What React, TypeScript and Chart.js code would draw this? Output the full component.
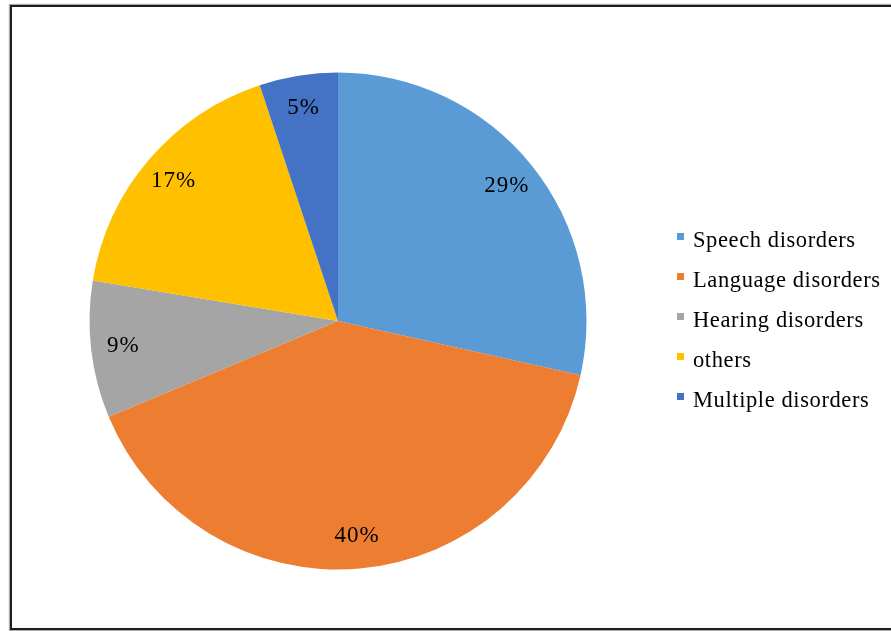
import React, { useEffect, useRef } from "react";
import { Chart, registerables } from "chart.js";

Chart.register(...registerables);

const categories = [
  "Speech disorders",
  "Language disorders",
  "Hearing disorders",
  "others",
  "Multiple disorders",
];
const shares = [28.5, 40.2, 8.9, 17.3, 5.1];
const shareLabels = ["29%", "40%", "9%", "17%", "5%"];
const colors = ["#5B9BD5", "#ED7D31", "#A5A5A5", "#FFC000", "#4472C4"];

const FONT = "'Liberation Serif', 'Times New Roman', serif";

const sliceLabels = {
  id: "sliceLabels",
  afterDatasetsDraw(chart: any) {
    const ctx = chart.ctx;
    const meta = chart.getDatasetMeta(0);
    ctx.save();
    ctx.font = `23px ${FONT}`;
    (ctx as any).letterSpacing = "1px";
    ctx.fillStyle = "#000";
    ctx.textAlign = "center";
    ctx.textBaseline = "middle";
    meta.data.forEach((arc: any, i: number) => {
      const p = arc.getProps(["x", "y", "startAngle", "endAngle", "outerRadius"], true);
      const mid = (p.startAngle + p.endAngle) / 2;
      const r = p.outerRadius * 0.87;
      ctx.fillText(shareLabels[i], p.x + Math.cos(mid) * r, p.y + Math.sin(mid) * r);
    });
    ctx.restore();
  },
};

const sideLegend = {
  id: "sideLegend",
  afterDraw(chart: any) {
    const ctx = chart.ctx;
    ctx.save();
    ctx.font = `22.5px ${FONT}`;
    (ctx as any).letterSpacing = "0.6px";
    ctx.textAlign = "left";
    ctx.textBaseline = "alphabetic";
    const labels: string[] = chart.data.labels;
    const bg: string[] = chart.data.datasets[0].backgroundColor;
    labels.forEach((lab, i) => {
      const base = 247 + i * 40;
      ctx.fillStyle = bg[i];
      ctx.fillRect(677, base - 14, 7, 7);
      ctx.fillStyle = "#000";
      ctx.fillText(lab, 693, base);
    });
    ctx.restore();
  },
};

export default function App() {
  const ref = useRef<HTMLCanvasElement | null>(null);
  useEffect(() => {
    if (!ref.current) return;
    const chart = new Chart(ref.current, {
      type: "pie",
      data: {
        labels: categories,
        datasets: [
          {
            data: shares,
            backgroundColor: colors,
            borderWidth: 0,
          },
        ],
      },
      options: {
        responsive: false,
        animation: false,
        devicePixelRatio: 1,
        layout: { padding: { left: 89.5, right: 304.5, top: 72.5, bottom: 61.5 } },
        plugins: {
          legend: { display: false },
          tooltip: { enabled: false },
        },
      },
      plugins: [sliceLabels, sideLegend],
    });
    return () => chart.destroy();
  }, []);
  return (
    <div
      style={{
        position: "fixed",
        left: 0,
        top: 0,
        width: 891,
        height: 631,
        overflow: "hidden",
        background: "#fff",
      }}
    >
      <div
        style={{
          position: "absolute",
          left: 10,
          top: 5,
          width: 1000,
          height: 625,
          boxSizing: "border-box",
          border: "2px solid #1e1e1e",
          boxShadow: "0 0 1px 1px #aaa",
        }}
      />
      <canvas
        ref={ref}
        width={891}
        height={631}
        style={{ position: "absolute", left: 0, top: 0, width: 891, height: 631 }}
      />
    </div>
  );
}
